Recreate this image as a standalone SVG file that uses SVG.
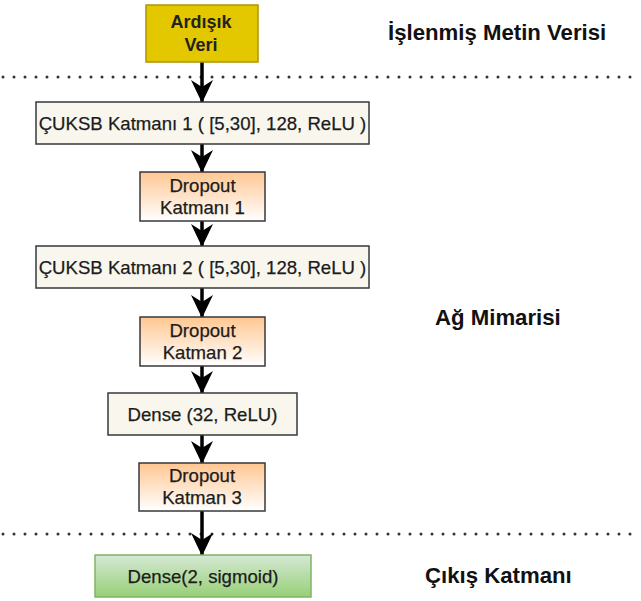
<svg xmlns="http://www.w3.org/2000/svg" width="641" height="601" viewBox="0 0 641 601">
  <style>
    .lbl { font-family: "Liberation Sans", Arial, sans-serif; font-size: 18.6px; fill: #1c1c1c; stroke: #1c1c1c; stroke-width: 0.25; text-anchor: middle; }
    .lbl-b { font-family: "Liberation Sans", Arial, sans-serif; font-size: 18px; font-weight: bold; fill: #222; text-anchor: middle; }
    .head { font-family: "Liberation Sans", Arial, sans-serif; font-size: 22.2px; font-weight: bold; fill: #111; }
    .cream { fill: #f9f7ed; stroke: #36393d; stroke-width: 1.5; }
    .drop { fill: url(#orangeGrad); stroke: #36393d; stroke-width: 1.5; }
    .sep { stroke: #333; stroke-width: 3; stroke-linecap: round; stroke-dasharray: 0 11; fill: none; }
    .edge { stroke: #000; stroke-width: 3.5; fill: none; marker-end: url(#arrow); }
  </style>
  <defs>
    <linearGradient id="orangeGrad" x1="0" y1="0" x2="0" y2="1">
      <stop offset="0" stop-color="#ffc792"/>
      <stop offset="1" stop-color="#ffffff"/>
    </linearGradient>
    <linearGradient id="greenGrad" x1="0" y1="0" x2="0" y2="1">
      <stop offset="0" stop-color="#d5e8d4"/>
      <stop offset="1" stop-color="#97d077"/>
    </linearGradient>
    <marker id="arrow" viewBox="0 0 23 22" refX="22" refY="11" markerWidth="23" markerHeight="22" markerUnits="userSpaceOnUse" orient="auto">
      <path d="M0,0 L23,11 L0,22 L7,11 Z" fill="#000"/>
    </marker>
  </defs>

  <rect width="641" height="601" fill="#ffffff"/>

  <!-- section separators -->
  <g id="separators">
    <line class="sep" x1="3" y1="77" x2="641" y2="77"/>
    <line class="sep" x1="3" y1="534" x2="641" y2="534"/>
  </g>

  <!-- section titles -->
  <g id="titles">
    <text class="head" x="388" y="40">İşlenmiş Metin Verisi</text>
    <text class="head" x="435" y="325">Ağ Mimarisi</text>
    <text class="head" x="425" y="583">Çıkış Katmanı</text>
  </g>

  <!-- connectors -->
  <g id="connectors">
    <line class="edge" x1="202" y1="62" x2="202" y2="102"/>
    <line class="edge" x1="202" y1="144" x2="202" y2="172"/>
    <line class="edge" x1="202" y1="221" x2="202" y2="246"/>
    <line class="edge" x1="202" y1="288" x2="202" y2="317"/>
    <line class="edge" x1="202" y1="366" x2="202" y2="393"/>
    <line class="edge" x1="202" y1="435" x2="202" y2="463"/>
    <line class="edge" x1="202" y1="511" x2="202" y2="555"/>
  </g>

  <g id="input">
    <rect x="146" y="5" width="112" height="57" fill="#e3c800" stroke="#b09500" stroke-width="1.5"/>
    <text class="lbl-b" x="201" y="28">Ardışık</text>
    <text class="lbl-b" x="201" y="51">Veri</text>
  </g>

  <g id="cnn1">
    <rect class="cream" x="36" y="102" width="333" height="42"/>
    <text class="lbl" x="202.5" y="129.5">ÇUKSB Katmanı 1 ( [5,30], 128, ReLU )</text>
  </g>

  <g id="dropout1">
    <rect class="drop" x="140" y="172" width="125" height="49"/>
    <text class="lbl" x="202.5" y="191.5">Dropout</text>
    <text class="lbl" x="202.5" y="213.5">Katmanı 1</text>
  </g>

  <g id="cnn2">
    <rect class="cream" x="36" y="246" width="333" height="42"/>
    <text class="lbl" x="202.5" y="273.5">ÇUKSB Katmanı 2 ( [5,30], 128, ReLU )</text>
  </g>

  <g id="dropout2">
    <rect class="drop" x="140" y="317" width="125" height="49"/>
    <text class="lbl" x="202.5" y="337">Dropout</text>
    <text class="lbl" x="202.5" y="359">Katman 2</text>
  </g>

  <g id="dense32">
    <rect class="cream" x="108" y="393" width="189" height="42"/>
    <text class="lbl" x="202.5" y="420.5">Dense (32, ReLU)</text>
  </g>

  <g id="dropout3">
    <rect class="drop" x="139" y="463" width="126" height="48"/>
    <text class="lbl" x="202" y="482">Dropout</text>
    <text class="lbl" x="202" y="504">Katman 3</text>
  </g>

  <g id="output">
    <rect x="95" y="555" width="216" height="42" fill="url(#greenGrad)" stroke="#82b366" stroke-width="1.5"/>
    <text class="lbl" x="203" y="583">Dense(2, sigmoid)</text>
  </g>
</svg>
